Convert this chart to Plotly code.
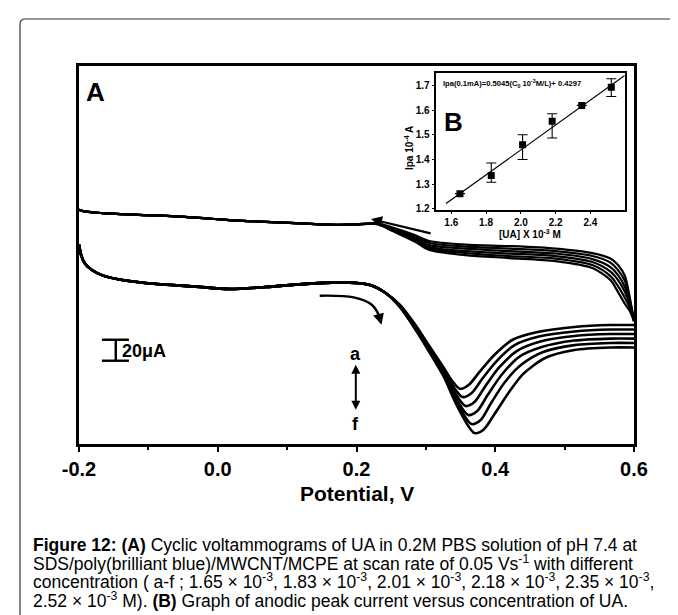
import plotly.graph_objects as go

# ---------------- Panel A: cyclic voltammograms (potential V, current uA; arbitrary zero) ----------------
curve_labels = ["a", "b", "c", "d", "e", "f"]

fwd_common_v = [-0.2, -0.197, -0.192, -0.182, -0.166, -0.14, -0.088, -0.035, 0.017, 0.069, 0.122, 0.174, 0.2, 0.221, 0.242]
fwd_common_i = [189.7, 180.2, 172.3, 165.9, 160.6, 156.4, 152.3, 150.1, 147.6, 149.5, 152.3, 153.9, 153.3, 151.1, 143.8]

fwd_a_v = [0.263, 0.284, 0.305, 0.326, 0.338, 0.349, 0.362, 0.378, 0.399, 0.425, 0.461, 0.514, 0.566, 0.6]
fwd_a_i = [132.3, 114.2, 93.3, 72.4, 60.0, 52.6, 56.5, 69.2, 85.0, 99.3, 106.6, 111.4, 113.3, 113.3]
fwd_b_v = [0.263, 0.284, 0.305, 0.326, 0.340, 0.353, 0.366, 0.381, 0.402, 0.428, 0.463, 0.514, 0.566, 0.6]
fwd_b_i = [131.8, 113.3, 91.9, 70.0, 54.3, 44.7, 48.6, 61.9, 79.0, 94.2, 102.3, 107.1, 109.0, 109.0]
fwd_c_v = [0.263, 0.284, 0.305, 0.326, 0.342, 0.357, 0.370, 0.385, 0.405, 0.431, 0.465, 0.514, 0.566, 0.6]
fwd_c_i = [131.4, 112.3, 90.4, 68.1, 48.6, 36.2, 40.0, 54.3, 72.4, 88.5, 97.6, 102.8, 104.7, 104.7]
fwd_d_v = [0.263, 0.284, 0.305, 0.326, 0.343, 0.361, 0.374, 0.389, 0.409, 0.434, 0.467, 0.514, 0.566, 0.6]
fwd_d_i = [130.9, 111.4, 89.5, 66.6, 43.8, 27.6, 31.4, 46.6, 65.7, 82.8, 92.3, 98.5, 100.4, 100.4]
fwd_e_v = [0.263, 0.284, 0.305, 0.326, 0.344, 0.366, 0.379, 0.394, 0.414, 0.437, 0.469, 0.514, 0.566, 0.6]
fwd_e_i = [130.4, 110.6, 88.5, 65.2, 40.0, 19.0, 22.8, 39.0, 59.0, 75.2, 87.6, 94.2, 96.2, 96.2]
fwd_f_v = [0.263, 0.284, 0.305, 0.326, 0.345, 0.370, 0.383, 0.399, 0.420, 0.440, 0.472, 0.514, 0.566, 0.6]
fwd_f_i = [130.0, 110.0, 87.6, 63.8, 36.2, 10.5, 13.6, 28.6, 49.5, 66.6, 81.9, 89.5, 91.9, 91.9]

rev_v = [0.6, 0.594, 0.587, 0.577, 0.566, 0.54, 0.487, 0.42, 0.357, 0.305, 0.284, 0.252, 0.231]
rev_a_i = [117.1, 139.0, 159.9, 170.4, 176.6, 181.8, 186.1, 188.5, 189.9, 193.3, 199.0, 206.1, 209.9]
rev_b_i = [117.1, 137.1, 155.2, 165.6, 172.8, 179.0, 183.7, 186.1, 188.0, 191.4, 197.5, 205.2, 209.9]
rev_c_i = [117.1, 134.2, 149.5, 160.9, 168.5, 176.1, 181.4, 183.7, 186.1, 189.4, 196.1, 204.7, 209.9]
rev_d_i = [117.1, 132.3, 144.7, 156.1, 164.2, 173.3, 179.0, 181.4, 183.7, 187.5, 194.7, 203.7, 209.4]
rev_e_i = [117.1, 129.5, 139.0, 150.4, 159.9, 170.4, 176.6, 179.0, 181.8, 186.1, 193.7, 203.3, 209.4]
rev_f_i = [117.1, 126.6, 133.3, 144.7, 156.1, 167.6, 174.2, 177.1, 179.9, 184.7, 192.8, 202.8, 209.4]
rev_common_v = [0.2, 0.174, 0.148, 0.095, 0.043, -0.009, -0.061, -0.114, -0.166, -0.19, -0.2]
rev_common_i = [209.2, 208.8, 209.2, 210.9, 212.3, 214.5, 216.8, 218.3, 219.9, 221.3, 223.1]

x_tick_vals = [-0.2, 0.0, 0.2, 0.4, 0.6]
x_tick_text = ["-0.2", "0.0", "0.2", "0.4", "0.6"]

# decorations of panel A (data coordinates)
scale_bar_v = [-0.167, -0.147, -0.128]      # left cap, stem, right cap
scale_bar_i = [79.3, 99.3]                  # 20 uA
lower_arrow_v = [0.147, 0.196, 0.222, 0.232, 0.236]
lower_arrow_i = [141.2, 139.6, 132.6, 123.1, 113.6]
upper_arrow_v = [0.309, 0.221]
upper_arrow_i = [200.2, 214.2]
af_arrow_v = 0.199
af_arrow_i = [75.5, 31.1]
af_label_i = [85.7, 19.0]

# ---------------- Panel B: calibration inset ----------------
ua_conc = [1.65, 1.83, 2.01, 2.18, 2.35, 2.52]
ipa = [1.262, 1.335, 1.46, 1.555, 1.619, 1.692]
err_plus = [0.0, 0.051, 0.04, 0.03, 0.0, 0.035]
err_minus = [0.0, 0.027, 0.06, 0.068, 0.0, 0.037]
fit_x = [1.57, 2.597]
fit_y = [1.222, 1.740]

caption_lines = [
    "<b>Figure 12:</b> <b>(A)</b> Cyclic voltammograms of UA in 0.2M PBS solution of pH 7.4 at",
    "SDS/poly(brilliant blue)/MWCNT/MCPE at scan rate of 0.05 Vs<sup>-1</sup> with different",
    "concentration ( a-f ; 1.65 × 10<sup>-3</sup>, 1.83 × 10<sup>-3</sup>, 2.01 × 10<sup>-3</sup>, 2.18 × 10<sup>-3</sup>, 2.35 × 10<sup>-3</sup>,",
    "2.52 × 10<sup>-3</sup> M). <b>(B)</b> Graph of anodic peak current versus concentration of UA.",
]
caption_y = [-0.2672, -0.3148, -0.3624, -0.4127]

FONT = "Liberation Sans, Arial, sans-serif"

fig = go.Figure()

fwd_v = [fwd_a_v, fwd_b_v, fwd_c_v, fwd_d_v, fwd_e_v, fwd_f_v]
fwd_i = [fwd_a_i, fwd_b_i, fwd_c_i, fwd_d_i, fwd_e_i, fwd_f_i]
rev_i = [rev_a_i, rev_b_i, rev_c_i, rev_d_i, rev_e_i, rev_f_i]

for k, lab in enumerate(curve_labels):
    fig.add_trace(go.Scatter(
        x=fwd_common_v + fwd_v[k], y=fwd_common_i + fwd_i[k],
        mode="lines", line=dict(color="black", width=2.6, shape="spline", smoothing=0.8),
        name=lab + " forward", showlegend=False, hoverinfo="skip"))
    fig.add_trace(go.Scatter(
        x=rev_v + rev_common_v, y=rev_i[k] + rev_common_i,
        mode="lines", line=dict(color="black", width=2.2, shape="spline", smoothing=0.8),
        name=lab + " reverse", showlegend=False, hoverinfo="skip"))

# curved scan-direction arrow (lower)
fig.add_trace(go.Scatter(
    x=lower_arrow_v[:-1], y=lower_arrow_i[:-1], mode="lines",
    line=dict(color="black", width=2.4, shape="spline"),
    showlegend=False, hoverinfo="skip"))

# inset
fig.add_trace(go.Scatter(
    x=fit_x, y=fit_y, mode="lines", line=dict(color="black", width=1.2),
    xaxis="x2", yaxis="y2", showlegend=False, hoverinfo="skip"))
fig.add_trace(go.Scatter(
    x=ua_conc, y=ipa, mode="markers",
    marker=dict(symbol="square", size=7, color="black"),
    error_y=dict(type="data", symmetric=False, array=err_plus, arrayminus=err_minus,
                 color="black", thickness=1.1, width=5),
    xaxis="x2", yaxis="y2", showlegend=False, hoverinfo="skip"))


def txt(x, y, text, size, ref="paper", xanchor="center", yanchor="middle", **kw):
    return dict(x=x, y=y, xref="x" if ref == "data" else "paper", yref="y" if ref == "data" else "paper",
                text=text, showarrow=False, xanchor=xanchor, yanchor=yanchor,
                font=dict(family=FONT, size=size, color="black"), **kw)


annotations = []
# upper arrow (reverse scan direction)
annotations.append(dict(x=upper_arrow_v[1], y=upper_arrow_i[1], ax=upper_arrow_v[0], ay=upper_arrow_i[0],
                        xref="x", yref="y", axref="x", ayref="y", text="", showarrow=True,
                        arrowhead=2, arrowsize=1.0, arrowwidth=2.2, arrowcolor="black"))
# lower arrow head
annotations.append(dict(x=lower_arrow_v[-1], y=lower_arrow_i[-1], ax=lower_arrow_v[-2], ay=lower_arrow_i[-2],
                        xref="x", yref="y", axref="x", ayref="y", text="", showarrow=True,
                        arrowhead=2, arrowsize=1.0, arrowwidth=2.2, arrowcolor="black"))
# a <-> f arrow
annotations.append(dict(x=af_arrow_v, y=af_arrow_i[0], ax=af_arrow_v, ay=af_arrow_i[1],
                        xref="x", yref="y", axref="x", ayref="y", text="", showarrow=True,
                        arrowhead=2, startarrowhead=2, arrowside="end+start", arrowsize=0.9,
                        arrowwidth=2, arrowcolor="black"))
annotations.append(txt(af_arrow_v, af_label_i[0], "<b>a</b>", 18, ref="data"))
annotations.append(txt(af_arrow_v, af_label_i[1], "<b>f</b>", 18, ref="data"))
# scale bar text
annotations.append(txt(-0.141, 88.8, "<b>20μA</b>", 18, ref="data", xanchor="left"))
# panel letters
annotations.append(txt(0.0306, 0.931, "<b>A</b>", 26))
annotations.append(txt(0.674, 0.852, "<b>B</b>", 26))
# inset equation and titles
annotations.append(txt(0.6523, 0.955, "<b>Ipa(0.1mA)=0.5045(C<sub>0</sub> 10<sup>-3</sup>M/L)+ 0.4297</b>",
                       7.6, xanchor="left"))
annotations.append(txt(0.812, 0.556, "<b>[UA] X 10<sup>-3</sup> M</b>", 10))
annotations.append(txt(0.5946, 0.783, "<b>Ipa 10<sup>-4</sup> A</b>", 10, textangle=-90))
# main x title
annotations.append(txt(0.5, -0.131, "<b>Potential, V</b>", 21))
# caption
for line, yy in zip(caption_lines, caption_y):
    annotations.append(txt(-0.0865, yy, line, 17.5, xanchor="left"))

shapes = []
# scale bar
shapes.append(dict(type="line", xref="x", yref="y", x0=scale_bar_v[1], x1=scale_bar_v[1],
                   y0=scale_bar_i[0], y1=scale_bar_i[1], line=dict(color="black", width=2.4)))
for yy in scale_bar_i:
    shapes.append(dict(type="line", xref="x", yref="y", x0=scale_bar_v[0], x1=scale_bar_v[2],
                       y0=yy, y1=yy, line=dict(color="black", width=2.4)))
# outer rounded frame
x0, x1, yt, yb, rx, ry = -0.1063, 1.0847, 1.1243, -0.54, 0.0095, 0.014
shapes.append(dict(type="path", xref="paper", yref="paper",
                   path=f"M {x0},{yb} L {x0},{yt-ry} Q {x0},{yt} {x0+rx},{yt} L {x1-rx},{yt} Q {x1},{yt} {x1},{yt-ry} L {x1},{yb}",
                   line=dict(color="#333333", width=1.2)))

fig.update_layout(
    width=678, height=615,
    margin=dict(l=71, r=52, t=58, b=179),
    paper_bgcolor="white", plot_bgcolor="white",
    showlegend=False,
    font=dict(family=FONT, color="black"),
    annotations=annotations, shapes=shapes,
    xaxis=dict(range=[-0.2, 0.6], tickvals=x_tick_vals, ticktext=x_tick_text,
               showline=True, mirror=True, linecolor="black", linewidth=2.6,
               ticks="outside", ticklen=5, tickwidth=2, tickcolor="black",
               minor=dict(dtick=0.1, ticks="outside", ticklen=3, tickwidth=2, tickcolor="black", showgrid=False),
               showgrid=False, zeroline=False,
               tickfont=dict(family=FONT, size=20, color="black", weight="bold")),
    yaxis=dict(range=[0, 360], showline=True, mirror=True, linecolor="black", linewidth=2.6,
               showticklabels=False, ticks="", showgrid=False, zeroline=False),
    xaxis2=dict(domain=[0.6438, 0.9832], anchor="y2", range=[1.514, 2.597],
                dtick=0.2, tick0=1.6, tickformat=".1f",
                showline=True, mirror=True, linecolor="black", linewidth=1.5,
                ticks="outside", ticklen=3, tickwidth=1.2, tickcolor="black",
                showgrid=False, zeroline=False,
                tickfont=dict(family=FONT, size=10, color="black", weight="bold")),
    yaxis2=dict(domain=[0.6198, 0.9815], anchor="x2", range=[1.197, 1.75],
                dtick=0.1, tick0=1.2, tickformat=".1f",
                showline=True, mirror=True, linecolor="black", linewidth=1.5,
                ticks="outside", ticklen=3, tickwidth=1.2, tickcolor="black",
                showgrid=False, zeroline=False,
                tickfont=dict(family=FONT, size=10, color="black", weight="bold")),
)

fig.write_html("out.html")
